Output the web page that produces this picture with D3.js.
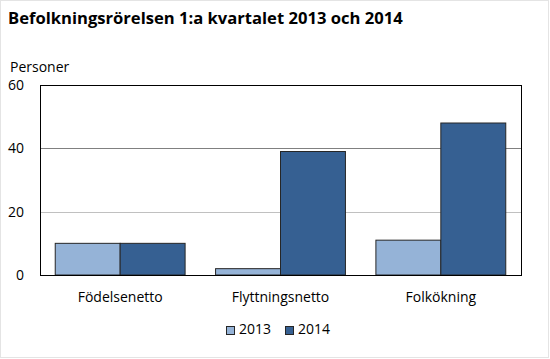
<!DOCTYPE html>
<html><head><meta charset="utf-8">
<script src="https://cdn.jsdelivr.net/npm/d3@7"></script>
<style>body{margin:0;background:#fff}svg{display:block}</style>
</head><body>
<script>
const categories = ["Födelsenetto", "Flyttningsnetto", "Folkökning"];
const seriesNames = ["2013", "2014"];
const values2013 = [10, 2, 11];
const values2014 = [10, 39, 48];
const yTicks = [0, 20, 40, 60];
const colors = ["#95B3D7", "#366092"];

const W = 550, H = 359;
const font = "'Open Sans', 'Noto Sans', sans-serif";
const svg = d3.select("body").append("svg").attr("width", W).attr("height", H);
svg.append("rect").attr("x", 0.5).attr("y", 0.5).attr("width", 548).attr("height", 357)
  .attr("fill", "#fff").attr("stroke", "#e4e4e4");

const m = {left: 40, right: 521, top: 85, bottom: 275};
const x = d3.scaleBand().domain(categories).range([m.left, m.right]).paddingInner(0.19).paddingOuter(0.095);
const xs = d3.scaleBand().domain(seriesNames).range([0, x.bandwidth()]);
const y = d3.scaleLinear().domain([0, 60]).range([m.bottom, m.top]);

svg.append("text").attr("x", 8).attr("y", 24).attr("font-family", font).attr("font-weight", "bold")
  .attr("font-size", 16.6).attr("fill", "#000").text("Befolkningsrörelsen 1:a kvartalet 2013 och 2014");
svg.append("text").attr("x", 10).attr("y", 72).attr("font-family", font)
  .attr("font-size", 14).attr("fill", "#000").text("Personer");

// gridlines
svg.append("g").selectAll("line").data(yTicks.filter(t => t > 0 && t < 60)).join("line")
  .attr("x1", m.left).attr("x2", m.right).attr("y1", d => Math.round(y(d)) + 0.5).attr("y2", d => Math.round(y(d)) + 0.5)
  .attr("stroke", d => d === 40 ? "#808080" : "#c0c0c0").attr("stroke-width", 1);

// y axis labels
const yAxis = d3.axisLeft(y).tickValues(yTicks).tickSize(0).tickPadding(0);
const ga = svg.append("g").attr("transform", `translate(${m.left - 16},0)`).call(yAxis);
ga.select(".domain").remove();
ga.selectAll("text").attr("font-family", font).attr("font-size", 14).attr("fill", "#000");

const data = [values2013, values2014];
const groups = svg.append("g").selectAll("g").data(categories).join("g")
  .attr("transform", d => `translate(${x(d)},0)`);
groups.selectAll("rect").data((c, i) => seriesNames.map((s, j) => ({s, v: data[j][i], j}))).join("rect")
  .attr("x", d => xs(d.s)).attr("width", xs.bandwidth())
  .attr("y", d => y(d.v)).attr("height", d => y(0) - y(d.v))
  .attr("fill", d => colors[d.j]).attr("stroke", "#262626").attr("stroke-width", 1);

// frame
svg.append("rect").attr("x", m.left + 0.5).attr("y", m.top + 0.5)
  .attr("width", m.right - m.left).attr("height", m.bottom - m.top)
  .attr("fill", "none").attr("stroke", "#000").attr("stroke-width", 1);

// x axis labels
const xAxis = d3.axisBottom(x).tickSize(0).tickPadding(0);
const gx = svg.append("g").attr("transform", `translate(0,${m.bottom})`).call(xAxis);
gx.select(".domain").remove();
gx.selectAll("text").attr("font-family", font).attr("font-size", 14).attr("fill", "#000")
  .attr("dy", null).attr("y", 27);

// legend
const leg = svg.append("g").attr("transform", "translate(0,334)");
const legX = [226, 285];
seriesNames.forEach((s, i) => {
  leg.append("rect").attr("x", legX[i] + 0.5).attr("y", -7.5).attr("width", 8).attr("height", 8)
    .attr("fill", colors[i]).attr("stroke", "#262626");
  leg.append("text").attr("x", legX[i] + 13).attr("y", 0).attr("font-family", font)
    .attr("font-size", 14).attr("fill", "#000").text(s);
});
</script>
</body></html>
